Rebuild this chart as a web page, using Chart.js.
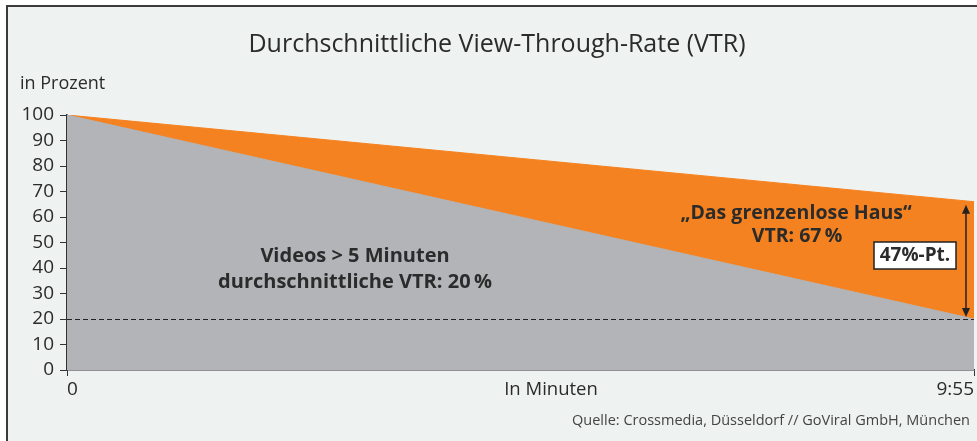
<!DOCTYPE html>
<html lang="de">
<head>
<meta charset="utf-8">
<title>Durchschnittliche View-Through-Rate (VTR)</title>
<script src="https://cdn.jsdelivr.net/npm/chart.js@4"></script>
<style>
  html, body { margin: 0; padding: 0; background: #fff; }
  #vtrChart { display: block; }
</style>
</head>
<body>
<canvas id="vtrChart" width="977" height="441"></canvas>
<script>
// Daten
const timeSec = [0, 595];            // 0 bis 9:55 Minuten
const xTickLabels = ['0', '9:55'];
const brandVtr = [100, 66];          // "Das grenzenlose Haus"
const avgVtr = [100, 20];            // Videos > 5 Minuten (Durchschnitt)
const yTicks = [0, 10, 20, 30, 40, 50, 60, 70, 80, 90, 100];
const avgLevel = 20;                 // gestrichelte Linie

const FONT = '"Open Sans", "Noto Sans", sans-serif';
const TEXT = '#2b2b2b';
const ORANGE = '#f58220';
const GREY = '#b3b4b7';

const toPoints = ys => timeSec.map((x, i) => ({ x, y: ys[i] }));

// Rahmen, Titel, Beschriftungen
const decoPlugin = {
  id: 'deco',
  beforeDraw(chart) {
    const { ctx, width, height } = chart;
    ctx.save();
    ctx.fillStyle = '#fff';
    ctx.fillRect(0, 0, width, height);
    ctx.fillStyle = '#eef2f1';
    ctx.fillRect(7, 6, width - 7, height - 6);
    ctx.strokeStyle = '#3a3a3a';
    ctx.lineWidth = 2;
    ctx.beginPath();
    ctx.moveTo(7, height);
    ctx.lineTo(7, 6);
    ctx.lineTo(width, 6);
    ctx.stroke();

    ctx.fillStyle = TEXT;
    ctx.textBaseline = 'middle';
    ctx.textAlign = 'center';
    ctx.font = '400 25px ' + FONT;
    ctx.fillText('Durchschnittliche View-Through-Rate (VTR)', 497, 45);
    ctx.textAlign = 'left';
    ctx.font = '400 18px ' + FONT;
    ctx.fillText('in Prozent', 20, 84);
    ctx.restore();
  },
  afterDatasetsDraw(chart) {
    const { ctx, chartArea: a, scales: { x, y } } = chart;
    ctx.save();

    // Durchschnittslinie 20 %
    const y20 = y.getPixelForValue(avgLevel);
    ctx.strokeStyle = '#222';
    ctx.lineWidth = 1;
    ctx.setLineDash([5, 3]);
    ctx.beginPath();
    ctx.moveTo(a.left, y20 + 0.5);
    ctx.lineTo(a.right, y20 + 0.5);
    ctx.stroke();
    ctx.setLineDash([]);

    // Doppelpfeil
    const ax = x.getPixelForValue(timeSec[1]) - 8;
    const yTop = y.getPixelForValue(brandVtr[1]) + 3;
    const yBot = y.getPixelForValue(avgVtr[1]) - 2;
    ctx.strokeStyle = '#222';
    ctx.fillStyle = '#222';
    ctx.lineWidth = 1.5;
    ctx.beginPath();
    ctx.moveTo(ax, yTop + 6);
    ctx.lineTo(ax, yBot - 6);
    ctx.stroke();
    ctx.beginPath();
    ctx.moveTo(ax, yTop);
    ctx.lineTo(ax - 4, yTop + 9);
    ctx.lineTo(ax + 4, yTop + 9);
    ctx.closePath();
    ctx.fill();
    ctx.beginPath();
    ctx.moveTo(ax, yBot);
    ctx.lineTo(ax - 4, yBot - 9);
    ctx.lineTo(ax + 4, yBot - 9);
    ctx.closePath();
    ctx.fill();

    // Textannotationen
    ctx.fillStyle = TEXT;
    ctx.textAlign = 'center';
    ctx.textBaseline = 'middle';
    ctx.font = 'bold 20px ' + FONT;
    ctx.fillText('Videos > 5 Minuten', 355, 256);
    ctx.fillText('durchschnittliche VTR: 20\u2009%', 355, 282);
    ctx.font = 'bold 19.5px ' + FONT;
    ctx.fillText('\u201EDas grenzenlose Haus\u201C', 796, 213);
    ctx.fillText('VTR: 67\u2009%', 797, 236);

    // Kasten 47%-Pt.
    ctx.fillStyle = '#fff';
    ctx.fillRect(874, 242, 82, 27);
    ctx.strokeStyle = '#222';
    ctx.lineWidth = 1.5;
    ctx.strokeRect(874, 242, 82, 27);
    ctx.fillStyle = TEXT;
    ctx.font = 'bold 19px ' + FONT;
    ctx.fillText('47%-Pt.', 915, 256);

    // Achsentitel und Quelle
    ctx.font = '400 18.5px ' + FONT;
    ctx.fillText('In Minuten', 551, 390);
    ctx.textAlign = 'right';
    ctx.font = '400 14.5px ' + FONT;
    ctx.fillStyle = '#444';
    ctx.fillText('Quelle: Crossmedia, D\u00FCsseldorf // GoViral GmbH, M\u00FCnchen', 970, 421);
    ctx.restore();
  }
};

new Chart(document.getElementById('vtrChart'), {
  type: 'line',
  data: {
    datasets: [
      {
        label: 'Videos > 5 Minuten',
        data: toPoints(avgVtr),
        backgroundColor: GREY,
        borderColor: GREY,
        borderWidth: 1,
        pointRadius: 0,
        fill: 'origin',
        order: 1
      },
      {
        label: 'Das grenzenlose Haus',
        data: toPoints(brandVtr),
        backgroundColor: ORANGE,
        borderColor: ORANGE,
        borderWidth: 1,
        pointRadius: 0,
        fill: 'origin',
        order: 2
      }
    ]
  },
  options: {
    responsive: false,
    devicePixelRatio: 1,
    animation: false,
    layout: { padding: { top: 115, right: 3, left: 0, bottom: 0 } },
    plugins: {
      legend: { display: false },
      tooltip: { enabled: false },
      title: { display: false }
    },
    scales: {
      x: {
        type: 'linear',
        min: timeSec[0],
        max: timeSec[timeSec.length - 1],
        afterBuildTicks: s => { s.ticks = timeSec.map(v => ({ value: v })); },
        afterFit: s => { s.height = 71; },
        grid: { drawOnChartArea: false, drawTicks: true, tickLength: 6, color: '#333' },
        border: { display: true, color: '#333', width: 1.5 },
        ticks: {
          align: 'inner',
          padding: 2,
          maxRotation: 0,
          autoSkip: false,
          color: TEXT,
          font: { family: FONT, size: 19, weight: '400' },
          callback: (v, i) => xTickLabels[i]
        }
      },
      y: {
        min: 0,
        max: 100,
        afterBuildTicks: s => { s.ticks = yTicks.map(v => ({ value: v })); },
        afterFit: s => { s.width = 67; },
        grid: { drawOnChartArea: false, drawTicks: true, tickLength: 7, color: '#333' },
        border: { display: true, color: '#333', width: 1.5 },
        ticks: {
          padding: 6,
          autoSkip: false,
          color: TEXT,
          font: { family: FONT, size: 19, weight: '400' }
        }
      }
    }
  },
  plugins: [decoPlugin]
});
</script>
</body>
</html>
